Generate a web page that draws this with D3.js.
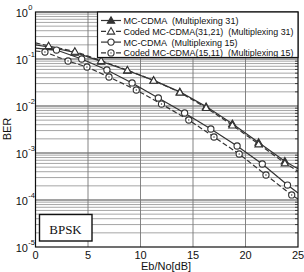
<!DOCTYPE html>
<html><head><meta charset="utf-8">
<script src="https://cdn.jsdelivr.net/npm/d3@7"></script>
<style>
html,body{margin:0;padding:0;background:#fff;}
svg{display:block;}
</style></head>
<body>
<svg id="chart" width="304" height="272"></svg>
<script>
// ---- data ----
const seriesNames = [
  "MC-CDMA  (Multiplexing 31)",
  "Coded MC-CDMA(31,21)  (Multiplexing 31)",
  "MC-CDMA  (Multiplexing 15)",
  "Coded MC-CDMA(15,11)  (Multiplexing 15)"
];
const mc31X = [0, 1.25, 3.75, 6.25, 8.75, 11.25, 13.75, 16.25, 18.75, 21.25, 23.75, 25];
const mc31Y = [0.20, 0.18, 0.138, 0.089, 0.057, 0.035, 0.020, 0.0097, 0.0042, 0.00168, 0.00067, 0.00046];
const coded31X = [0, 1.25, 3.75, 6.25, 8.75, 11.25, 13.75, 16.25, 18.75, 21.25, 23.75, 25];
const coded31Y = [0.22, 0.19, 0.145, 0.092, 0.058, 0.035, 0.0195, 0.0092, 0.0039, 0.00155, 0.00061, 0.00041];
const mc15X = [0, 2.0, 4.4, 6.8, 9.2, 11.7, 14.2, 16.7, 19.2, 21.6, 24.0, 25];
const mc15Y = [0.171, 0.155, 0.100, 0.0583, 0.0309, 0.0148, 0.0071, 0.00324, 0.00141, 0.000583, 0.000208, 0.000141];
const coded15X = [0, 0.9, 3.1, 4.9, 7.0, 9.6, 12.0, 14.6, 17.0, 19.4, 21.95, 24.4, 25];
const coded15Y = [0.148, 0.141, 0.0906, 0.0676, 0.0414, 0.0219, 0.0110, 0.00504, 0.00219, 0.000952, 0.000340, 0.000128, 0.000105];
const xTicks = [0, 5, 10, 15, 20, 25];
const yTickExps = [0, -1, -2, -3, -4, -5];
const xLabel = "Eb/No[dB]";
const yLabel = "BER";
const boxLabel = "BPSK";

// ---- layout ----
const L = 35.5, R = 298, T = 12, B = 247;
const svg = d3.select("#chart");
const x = d3.scaleLinear().domain([0, 25]).range([L, R]);
const y = d3.scaleLog().domain([1e-5, 1]).range([B, T]);
const ink = "#333";

// grid
const minor = [];
for (let e = -5; e < 0; e++) for (let k = 2; k <= 9; k++) minor.push(k * Math.pow(10, e));
svg.append("g").selectAll("line").data(minor).join("line")
  .attr("x1", L).attr("x2", R).attr("y1", d => y(d)).attr("y2", d => y(d))
  .attr("stroke", "#8f8f8f").attr("stroke-width", 0.8);
svg.append("g").selectAll("line").data(yTickExps.slice(1, -1)).join("line")
  .attr("x1", L).attr("x2", R).attr("y1", d => y(Math.pow(10, d))).attr("y2", d => y(Math.pow(10, d)))
  .attr("stroke", "#444").attr("stroke-width", 1);
svg.append("g").selectAll("line").data(xTicks.slice(1, -1)).join("line")
  .attr("x1", d => x(d)).attr("x2", d => x(d)).attr("y1", T).attr("y2", B)
  .attr("stroke", "#777").attr("stroke-width", 0.9);

// series
const series = [
  {xs: mc31X, ys: mc31Y, dash: null, marker: "triFill"},
  {xs: coded31X, ys: coded31Y, dash: "5,2.5", marker: "tri"},
  {xs: mc15X, ys: mc15Y, dash: null, marker: "circ"},
  {xs: coded15X, ys: coded15Y, dash: "5,2.5", marker: "circDot"}
];
svg.append("defs").append("clipPath").attr("id", "clip")
  .append("rect").attr("x", L).attr("y", T).attr("width", R - L).attr("height", B - T);
const plot = svg.append("g").attr("clip-path", "url(#clip)");
const line = d3.line().x(d => x(d[0])).y(d => y(d[1]));

function drawMarker(g, type, cx, cy) {
  if (type === "triFill" || type === "tri") {
    const s = 3.7;
    g.append("path")
      .attr("d", `M${cx},${cy - s}L${cx + s},${cy + s * 0.75}L${cx - s},${cy + s * 0.75}Z`)
      .attr("fill", type === "triFill" ? ink : "#fff").attr("stroke", ink).attr("stroke-width", 1.1);
  } else {
    g.append("circle").attr("cx", cx).attr("cy", cy).attr("r", 3.1)
      .attr("fill", "#fff").attr("stroke", ink).attr("stroke-width", 1.1);
    if (type === "circDot") {
      g.append("circle").attr("cx", cx).attr("cy", cy).attr("r", 0.7).attr("fill", ink);
    }
  }
}

series.forEach(s => {
  const pts = s.xs.map((v, i) => [v, s.ys[i]]);
  plot.append("path").datum(pts).attr("d", line)
    .attr("fill", "none").attr("stroke", ink).attr("stroke-width", 1.2)
    .attr("stroke-dasharray", s.dash);
});
series.forEach(s => {
  const g = plot.append("g");
  s.xs.forEach((v, i) => {
    if (i === 0 || i === s.xs.length - 1) return;
    drawMarker(g, s.marker, x(v), y(s.ys[i]));
  });
});

// frame
svg.append("rect").attr("x", L).attr("y", T).attr("width", R - L).attr("height", B - T)
  .attr("fill", "none").attr("stroke", "#111").attr("stroke-width", 1.2);
svg.append("g").selectAll("line").data(minor).join("line")
  .attr("x1", R - 3).attr("x2", R).attr("y1", d => y(d)).attr("y2", d => y(d))
  .attr("stroke", "#222").attr("stroke-width", 0.8);

// legend
const lg = svg.append("g");
lg.append("rect").attr("x", 97.5).attr("y", T).attr("width", R - 97.5).attr("height", 45.5)
  .attr("fill", "#fff").attr("stroke", "#111").attr("stroke-width", 1.2);
const rowY = [20.5, 31.3, 42.1, 52.9];
const textW = [115, 170, 114, 170];
series.forEach((s, i) => {
  const yy = rowY[i];
  lg.append("line").attr("x1", 101).attr("x2", 121).attr("y1", yy).attr("y2", yy)
    .attr("stroke", ink).attr("stroke-width", 1.2).attr("stroke-dasharray", s.dash);
  drawMarker(lg, s.marker, 111, yy);
  lg.append("text").attr("x", 123.5).attr("y", yy + 3.4)
    .attr("font-family", "'Liberation Sans', Arial, sans-serif").attr("font-size", 9.3)
    .attr("fill", "#111").attr("xml:space", "preserve").style("white-space", "pre")
    .attr("textLength", textW[i]).attr("lengthAdjust", "spacingAndGlyphs")
    .text(seriesNames[i]);
});

// axes labels
const fnt = "'Liberation Sans', Arial, sans-serif";
svg.append("g").selectAll("text").data(xTicks).join("text")
  .attr("x", d => x(d)).attr("y", 258.5).attr("text-anchor", "middle")
  .attr("font-family", fnt).attr("font-size", 11).attr("fill", "#111")
  .text(d => d);
const yt = svg.append("g").selectAll("g").data(yTickExps).join("g")
  .attr("transform", d => `translate(0,${y(Math.pow(10, d))})`);
yt.append("text").attr("x", 28).attr("y", 4.5).attr("text-anchor", "end")
  .attr("font-family", fnt).attr("font-size", 11).attr("fill", "#111").text("10");
yt.append("text").attr("x", 28.3).attr("y", -2.5)
  .attr("font-family", fnt).attr("font-size", 7.5).attr("fill", "#111").text(d => d);

svg.append("text").attr("x", 166).attr("y", 269.5).attr("text-anchor", "middle")
  .attr("font-family", fnt).attr("font-size", 11).attr("fill", "#111").text(xLabel);
svg.append("text").attr("transform", "translate(11,129) rotate(-90)").attr("text-anchor", "middle")
  .attr("font-family", fnt).attr("font-size", 11).attr("fill", "#111").text(yLabel);

// BPSK box
svg.append("rect").attr("x", 39.5).attr("y", 214.5).attr("width", 52.5).attr("height", 26.5)
  .attr("fill", "#fff").attr("stroke", "#111").attr("stroke-width", 1.4);
svg.append("text").attr("x", 65.5).attr("y", 233.5).attr("text-anchor", "middle")
  .attr("font-family", "'Liberation Serif', 'DejaVu Serif', serif").attr("font-size", 13).attr("fill", "#111")
  .text(boxLabel);
</script>
</body></html>
